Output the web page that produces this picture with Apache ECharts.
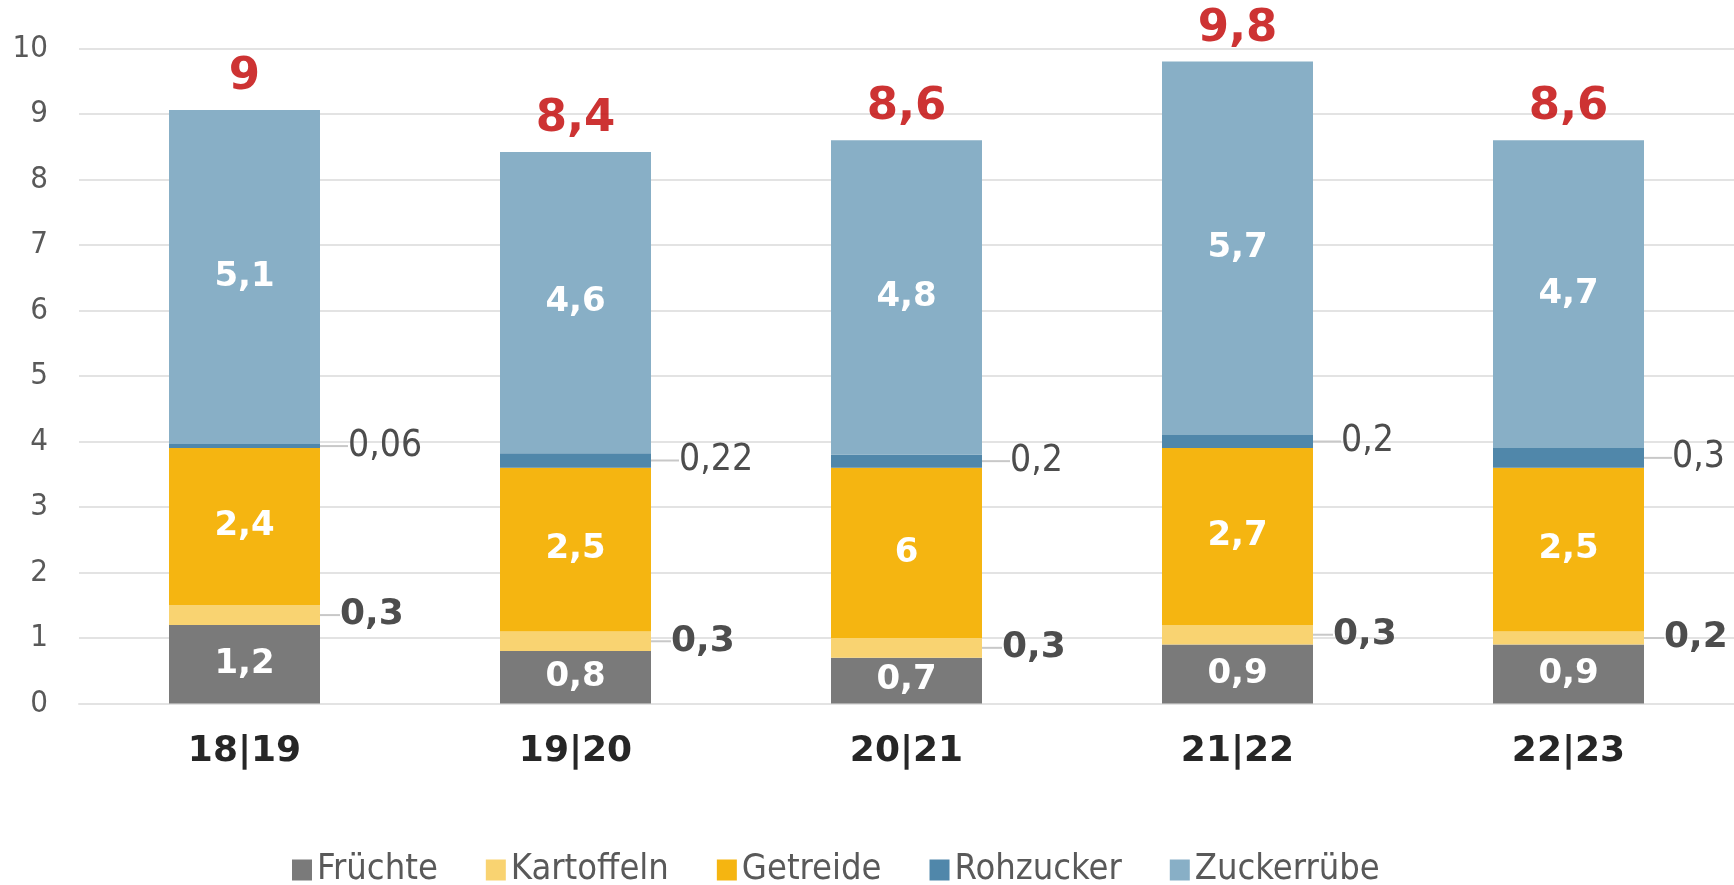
<!DOCTYPE html>
<html>
<head>
<meta charset="utf-8">
<script src="https://cdn.jsdelivr.net/npm/echarts@6/dist/echarts.min.js"></script>
<style>
  html, body { margin: 0; padding: 0; background: #fff; }
  #main { width: 1734px; height: 885px; }
</style>
</head>
<body>
<div id="main"></div>
<script>
// Wirtschaftsjahre
var categories = ['18|19', '19|20', '20|21', '21|22', '22|23'];
// Segmente je Säule (von unten nach oben)
var fruechte = [1.2, 0.8, 0.7, 0.9, 0.9];
var kartoffeln = [0.3, 0.3, 0.3, 0.3, 0.2];
var getreide = [2.4, 2.5, 2.6, 2.7, 2.5];
var getreideText = ['2,4', '2,5', '6', '2,7', '2,5']; // so beschriftet im Original
var rohzucker = [0.06, 0.22, 0.2, 0.2, 0.3];
var zuckerruebe = [5.1, 4.6, 4.8, 5.7, 4.7];
// Summen über den Säulen
var totals = [9, 8.4, 8.6, 9.8, 8.6];

var FONT = "'DejaVu Sans Condensed', 'DejaVu Sans', sans-serif";
var BOLD = "'DejaVu Sans', sans-serif";

function de(v) {
    return String(v).replace('.', ',');
}

// Höhe der Säule = Summe der Segmente, dort sitzt die rote Summe
var stackTop = categories.map(function (c, i) {
    return fruechte[i] + kartoffeln[i] + getreide[i] + rohzucker[i] + zuckerruebe[i];
});

var innerLabel = {
    show: true,
    position: 'inside',
    color: '#fff',
    fontFamily: BOLD,
    fontWeight: 'bold',
    fontSize: 34,
    formatter: function (p) { return de(p.value); }
};

var guideLine = {
    show: true,
    length2: 0,
    lineStyle: { color: '#c8c8c8', width: 2 }
};

function bar(name, data, color, label, extra) {
    var s = {
        name: name,
        type: 'bar',
        stack: 'total',
        barWidth: 151,
        data: data,
        itemStyle: { color: color },
        label: label,
        emphasis: { disabled: true }
    };
    if (extra) {
        for (var k in extra) s[k] = extra[k];
    }
    return s;
}

var myChart = echarts.init(document.getElementById('main'));

var option = {
    animation: false,
    backgroundColor: '#fff',
    textStyle: { fontFamily: FONT },
    grid: {
        left: 79,
        right: -10,
        top: 48.5,
        bottom: 181.5,
        containLabel: false
    },
    legend: {
        data: ['Früchte', 'Kartoffeln', 'Getreide', 'Rohzucker', 'Zuckerrübe'],
        left: 287,
        top: 847,
        icon: 'rect',
        itemWidth: 20,
        itemHeight: 21,
        itemGap: 48,
        textStyle: { fontFamily: FONT, fontSize: 36, color: '#595959' }
    },
    xAxis: {
        type: 'category',
        data: categories,
        axisLine: { lineStyle: { color: '#e3e3e3', width: 2 } },
        axisTick: { show: false },
        axisLabel: {
            margin: 30,
            fontFamily: BOLD,
            fontWeight: 'bold',
            fontSize: 36,
            color: '#262626'
        }
    },
    yAxis: {
        type: 'value',
        min: 0,
        max: 10,
        interval: 1,
        axisLine: { show: false },
        axisTick: { show: false },
        splitLine: { lineStyle: { color: '#e3e3e3', width: 2 } },
        axisLabel: {
            margin: 31,
            fontFamily: FONT,
            fontSize: 31,
            color: '#595959'
        }
    },
    series: [
        bar('Früchte', fruechte, '#7a7a7a', innerLabel),
        bar('Kartoffeln', kartoffeln, '#f9d371', {
            show: true,
            position: 'right',
            distance: 6,
            color: '#4d4d4d',
            fontFamily: BOLD,
            fontWeight: 'bold',
            fontSize: 36,
            formatter: function (p) { return de(p.value); }
        }, { labelLayout: { dx: 14 }, labelLine: guideLine }),
        bar('Getreide', getreide, '#f5b511', {
            show: true,
            position: 'inside',
            color: '#fff',
            fontFamily: BOLD,
            fontWeight: 'bold',
            fontSize: 34,
            formatter: function (p) { return getreideText[p.dataIndex]; }
        }),
        bar('Rohzucker', rohzucker, '#5087aa', {
            show: true,
            position: 'right',
            distance: 6,
            color: '#4d4d4d',
            fontFamily: FONT,
            fontSize: 37,
            formatter: function (p) { return de(p.value); }
        }, { labelLayout: { dx: 22 }, labelLine: guideLine }),
        bar('Zuckerrübe', zuckerruebe, '#88afc6', innerLabel),
        {
            name: 'Summe',
            type: 'scatter',
            data: stackTop,
            symbolSize: 0,
            silent: true,
            z: 5,
            label: {
                show: true,
                position: 'top',
                distance: 10,
                color: '#c00000',
                fontFamily: BOLD,
                fontWeight: 'bold',
                fontSize: 45,
                formatter: function (p) { return de(totals[p.dataIndex]); }
            }
        }
    ]
};

option && myChart.setOption(option);
</script>
</body>
</html>
